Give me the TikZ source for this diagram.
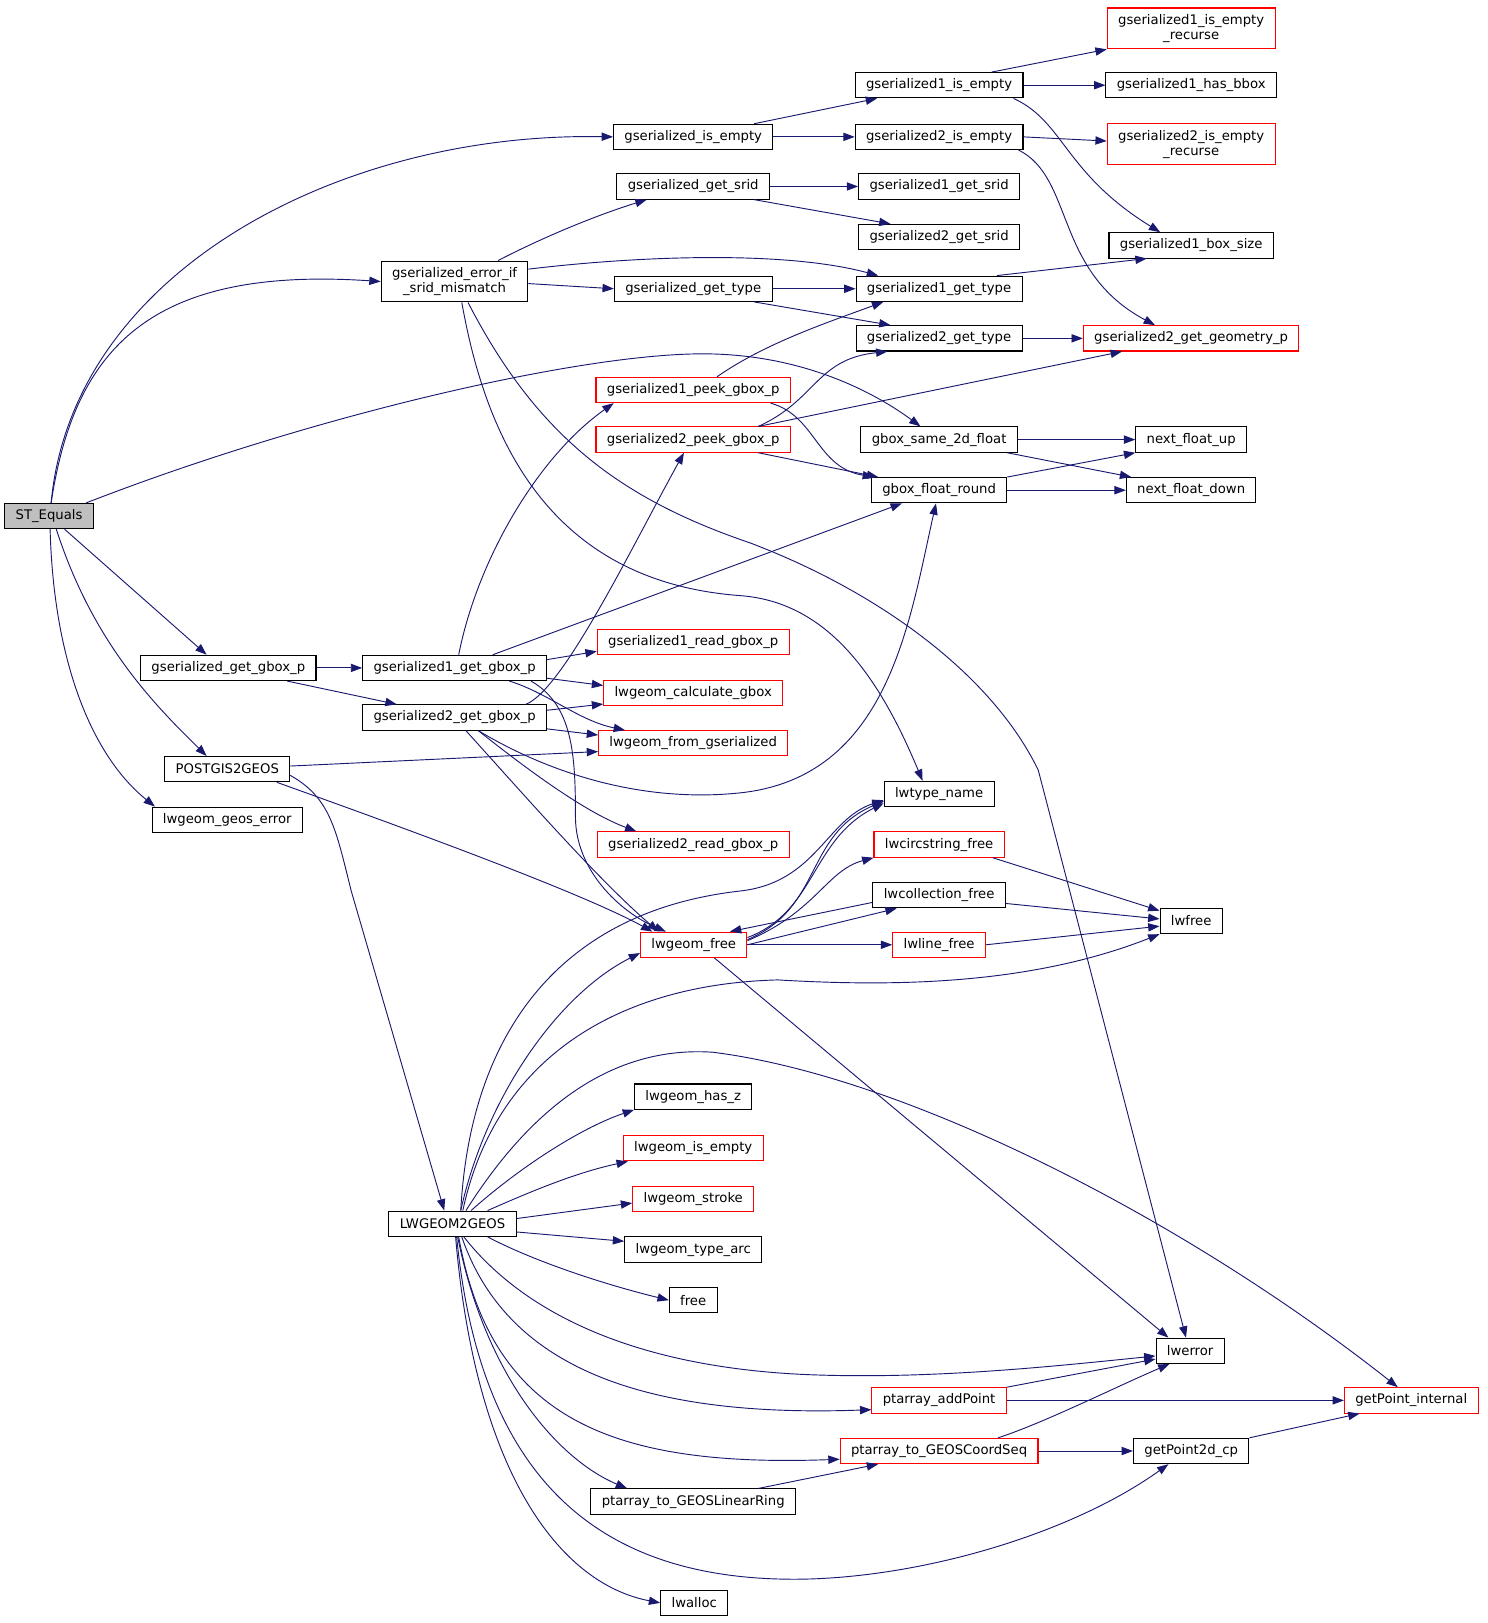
\documentclass[tikz,border=0pt]{standalone}
\usepackage{fontspec}
\setmainfont{DejaVu Sans}
\usetikzlibrary{arrows.meta}
\definecolor{edgeblue}{HTML}{191970}
\definecolor{boxred}{HTML}{FF0000}
\definecolor{boxgray}{HTML}{BFBFBF}

\begin{document}
\begin{tikzpicture}[x=1pt, y=-1pt,
  fn/.style = {draw, line width=1pt, rectangle, inner xsep=10.5pt, inner ysep=0pt, minimum height=24.5pt, font=\fontsize{12.8}{14.5}\selectfont},
  fnred/.style = {fn, draw=boxred},
  fnmain/.style = {fn, fill=boxgray},
  twoline/.style = {align=center, minimum height=39.5pt},
  calls/.style = {draw=edgeblue, line width=0.9pt, -{Triangle[length=11pt,width=8pt]}}]

		\useasboundingbox (0,-2.5) rectangle (1440,1568.5);

		% column 0 and 1
		\node[fnmain] (st) at (47.5,497) {ST\_Equals};
		\node[fn] (ggg) at (221,644) {gserialized\_get\_gbox\_p};
		\node[fn] (p2g) at (220,742) {POSTGIS2GEOS};
		\node[fn] (lge) at (220,791) {lwgeom\_geos\_error};

		% column 2
		\node[fn, twoline] (gesm) at (440,270) {gserialized\_error\_if\\\_srid\_mismatch};
		\node[fn] (g1gg) at (440,644) {gserialized1\_get\_gbox\_p};
		\node[fn] (g2gb) at (440,692) {gserialized2\_get\_gbox\_p};
		\node[fn] (l2g) at (438,1182) {LWGEOM2GEOS};

		% column 3
		\node[fn] (gie) at (671,130) {gserialized\_is\_empty};
		\node[fn] (ggs) at (671,178) {gserialized\_get\_srid};
		\node[fn] (ggt) at (671,277) {gserialized\_get\_type};
		\node[fnred] (g1pg) at (671,375) {gserialized1\_peek\_gbox\_p};
		\node[fnred] (g2pg) at (671,423) {gserialized2\_peek\_gbox\_p};
		\node[fnred] (g1rg) at (671,619) {gserialized1\_read\_gbox\_p};
		\node[fnred] (lcg) at (671,668) {lwgeom\_calculate\_gbox};
		\node[fnred] (lfg) at (671,717) {lwgeom\_from\_gserialized};
		\node[fnred] (g2rg) at (671,815) {gserialized2\_read\_gbox\_p};
		\node[fnred] (lgf) at (671.5,912) {lwgeom\_free};
		\node[fn] (lhz) at (671,1059) {lwgeom\_has\_z};
		\node[fnred] (lie) at (671,1109) {lwgeom\_is\_empty};
		\node[fnred] (ls) at (671,1158) {lwgeom\_stroke};
		\node[fn] (lta) at (671,1207) {lwgeom\_type\_arc};
		\node[fn] (fr) at (671,1256) {free};
		\node[fn] (plr) at (671,1451) {ptarray\_to\_GEOSLinearRing};
		\node[fn] (lwa) at (672,1549) {lwalloc};

		% column 4
		\node[fn] (g1ie) at (909,80) {gserialized1\_is\_empty};
		\node[fn] (g2ie) at (909,130) {gserialized2\_is\_empty};
		\node[fn] (g1gs) at (909,178) {gserialized1\_get\_srid};
		\node[fn] (g2gs) at (909,227) {gserialized2\_get\_srid};
		\node[fn] (g1gt) at (909,277) {gserialized1\_get\_type};
		\node[fn] (g2gt) at (909,325) {gserialized2\_get\_type};
		\node[fn] (gs2f) at (909,423) {gbox\_same\_2d\_float};
		\node[fn] (gfr) at (909,472) {gbox\_float\_round};
		\node[fn] (ltn) at (909,766) {lwtype\_name};
		\node[fnred] (lcsf) at (909,815) {lwcircstring\_free};
		\node[fn] (lcf) at (909,864) {lwcollection\_free};
		\node[fnred] (llf) at (909,912) {lwline\_free};
		\node[fnred] (pap) at (909,1353) {ptarray\_addPoint};
		\node[fnred] (pcs) at (909,1402) {ptarray\_to\_GEOSCoordSeq};

		% column 5 and 6
		\node[fnred, twoline] (g1ier) at (1153,25) {gserialized1\_is\_empty\\\_recurse};
		\node[fn] (g1hb) at (1153,80) {gserialized1\_has\_bbox};
		\node[fnred, twoline] (g2ier) at (1153,137) {gserialized2\_is\_empty\\\_recurse};
		\node[fn] (g1bs) at (1153,235) {gserialized1\_box\_size};
		\node[fnred] (g2gg) at (1153,325) {gserialized2\_get\_geometry\_p};
		\node[fn] (nfu) at (1153,423) {next\_float\_up};
		\node[fn] (nfd) at (1153,472) {next\_float\_down};
		\node[fn] (lwf) at (1153,889) {lwfree};
		\node[fn] (lwe) at (1152,1305) {lwerror};
		\node[fn] (gp2) at (1153,1402) {getPoint2d\_cp};
		\node[fnred] (gpi) at (1366,1353) {getPoint\_internal};

		% ST_Equals
		\draw[calls] ([xshift=2pt]st.north) .. controls (70,260) and (330,125) .. (gie.west);
		\draw[calls] ([xshift=2pt]st.north) .. controls (72,335) and (145,255) .. (gesm.west);
		\draw[calls] ([xshift=36pt]st.north) .. controls (300,400) and (560,340) .. (680,340)
			.. controls (780,340) and (850,380) .. ([xshift=-18pt]gs2f.north);
		\draw[calls] ([xshift=15pt]st.south) -- ([xshift=-21pt]ggg.north);
		\draw[calls] ([xshift=7pt]st.south) .. controls (90,620) and (150,680) .. ([xshift=-20pt]p2g.north);
		\draw[calls] ([xshift=1pt]st.south) .. controls (52,640) and (90,730) .. ([xshift=-70pt]lge.north);

		% gserialized_is_empty
		\draw[calls] ([xshift=59pt]gie.north) -- ([xshift=-60pt]g1ie.south);
		\draw[calls] (gie.east) -- (g2ie.west);
		\draw[calls] ([xshift=51pt]g1ie.north) -- (g1ier.south west);
		\draw[calls] (g1ie.east) -- (g1hb.west);
		\draw[calls] ([xshift=72pt]g1ie.south) .. controls (1030,115) and (1030,165) .. ([xshift=-30pt]g1bs.north);
		\draw[calls] (g2ie.east) -- ([yshift=3pt]g2ier.west);
		\draw[calls] ([xshift=77pt]g2ie.south) .. controls (1040,170) and (1020,260) .. ([xshift=-35pt]g2gg.north);

		% gserialized_error_if_srid_mismatch
		\draw[calls] ([xshift=42pt]gesm.north) .. controls (530,225) and (580,205) .. ([xshift=-45pt]ggs.south);
		\draw[calls] ([yshift=12pt]gesm.east) .. controls (620,245) and (760,240) .. ([xshift=-59pt]g1gt.north);
		\draw[calls] ([yshift=-2pt]gesm.east) -- (ggt.west);
		\draw[calls] ([xshift=7pt]gesm.south) .. controls (470,420) and (530,560) .. (716,574)
			.. controls (800,580) and (850,650) .. ([xshift=-16pt]ltn.north);
		\draw[calls] ([xshift=13pt]gesm.south) .. controls (520,420) and (600,480) .. (726,523)
			.. controls (850,570) and (960,650) .. (1005,743) -- ([xshift=-4pt]lwe.north);

		% srid and type
		\draw[calls] (ggs.east) -- (g1gs.west);
		\draw[calls] ([xshift=59pt]ggs.south) -- ([xshift=-47pt]g2gs.north);
		\draw[calls] (ggt.east) -- (g1gt.west);
		\draw[calls] ([xshift=59pt]ggt.south) -- ([xshift=-47pt]g2gt.north);
		\draw[calls] ([xshift=56pt]g1gt.north) -- ([xshift=-43pt]g1bs.south);
		\draw[calls] (g2gt.east) -- (g2gg.west);

		% peek gbox
		\draw[calls] ([xshift=23pt]g1pg.north) .. controls (740,330) and (800,310) .. ([xshift=-54pt]g1gt.south);
		\draw[calls] ([xshift=75pt]g1pg.south) .. controls (790,400) and (790,450) .. ([xshift=3pt]gfr.north west);
		\draw[calls] ([xshift=63pt]g2pg.north) .. controls (790,385) and (790,345) .. ([xshift=-50pt]g2gt.south);
		\draw[calls] ([xshift=63pt]g2pg.north) -- ([xshift=-67pt]g2gg.south);
		\draw[calls] ([xshift=63pt]g2pg.south) -- ([xshift=-59pt]gfr.north);

		% float
		\draw[calls] (gs2f.east) -- (nfu.west);
		\draw[calls] ([xshift=66pt]gs2f.south) -- ([xshift=-58pt]nfd.north);
		\draw[calls] ([xshift=66pt]gfr.north) -- (nfu.south west);
		\draw[calls] (gfr.east) -- (nfd.west);

		% gserialized_get_gbox_p
		\draw[calls] (ggg.east) -- (g1gg.west);
		\draw[calls] ([xshift=57pt]ggg.south) -- ([xshift=-56pt]g2gb.north);
		\draw[calls] ([xshift=4pt]g1gg.north) .. controls (462,540) and (520,440) .. ([xshift=-77pt]g1pg.south);
		\draw[calls] ([xshift=37pt]g1gg.north) -- ([xshift=-36pt]gfr.south);
		\draw[calls] ([yshift=8pt]g1gg.east) -- ([yshift=-9pt]g1rg.west);
		\draw[calls] ([yshift=-10pt]g1gg.east) -- ([yshift=7pt]lcg.west);
		\draw[calls] ([xshift=53pt]g1gg.south) .. controls (530,668) and (560,695) .. ([xshift=-66pt]lfg.north);
		\draw[calls] ([xshift=74pt]g1gg.south) .. controls (555,680) and (557,730) .. (557,788)
			.. controls (557,840) and (600,880) .. ([xshift=-27pt]lgf.north);
		\draw[calls] ([xshift=69pt]g2gb.north) .. controls (545,665) and (610,530) .. ([xshift=-9pt]g2pg.south);
		\draw[calls] ([yshift=7pt]g2gb.east) -- ([yshift=-11pt]lcg.west);
		\draw[calls] ([yshift=-11pt]g2gb.east) -- ([yshift=8pt]lfg.west);
		\draw[calls] ([xshift=23pt]g2gb.south) .. controls (530,745) and (620,775) .. (716,765)
			.. controls (860,750) and (880,600) .. ([xshift=-3pt]gfr.south);
		\draw[calls] ([xshift=23pt]g2gb.south) .. controls (520,750) and (570,785) .. ([xshift=-55pt]g2rg.north);
		\draw[calls] ([xshift=11pt]g2gb.south) .. controls (510,770) and (580,850) .. ([xshift=-34pt]lgf.north);

		% POSTGIS2GEOS
		\draw[calls] ([yshift=3pt]p2g.east) -- ([yshift=-8pt]lfg.west);
		\draw[calls] ([xshift=48pt]p2g.south) .. controls (380,795) and (560,860) .. ([xshift=-40pt]lgf.north);
		\draw[calls] ([yshift=-6pt]p2g.east) .. controls (320,770) and (325,800) .. (340,860) -- ([xshift=-8pt]l2g.north);

		% lwgeom_free
		\draw[calls] ([yshift=7pt]lgf.east) .. controls (790,880) and (785,810) .. ([yshift=-9pt]ltn.west);
		\draw[calls] ([yshift=5pt]lgf.east) .. controls (797,876) and (778,806) .. ([yshift=-7pt]ltn.west);
		\draw[calls] ([yshift=4pt]lgf.east) .. controls (790,880) and (800,840) .. (lcsf.south west);
		\draw[calls] (lgf.east) -- ([xshift=-41pt]lcf.south);
		\draw[calls] ([yshift=-7pt]lcf.west) -- ([xshift=35pt]lgf.north);
		\draw[calls] (lgf.east) -- (llf.west);
		\draw[calls] ([xshift=20pt]lgf.south) -- ([xshift=-21pt]lwe.north);
		\draw[calls] ([xshift=52pt]lcsf.south) -- ([yshift=10pt]lwf.west);
		\draw[calls] ([yshift=-8pt]lcf.east) -- ([yshift=2pt]lwf.west);
		\draw[calls] (llf.east) -- ([yshift=-5pt]lwf.west);

		% LWGEOM2GEOS
		\draw[calls] ([xshift=8pt]l2g.north) .. controls (455,1000) and (540,880) .. (716,860)
			.. controls (790,852) and (800,790) .. ([yshift=-6pt]ltn.west);
		\draw[calls] ([xshift=8pt]l2g.north) .. controls (470,1060) and (540,960) .. ([yshift=-8pt]lgf.west);
		\draw[calls] ([xshift=10pt]l2g.north) .. controls (480,1020) and (600,950) .. (753,946)
			.. controls (870,953) and (1000,950) .. (lwf.south west);
		\draw[calls] ([xshift=13pt]l2g.north) .. controls (520,1060) and (600,1010) .. (690,1016)
			.. controls (880,1040) and (1150,1180) .. ([xshift=-13pt]gpi.north);
		\draw[calls] ([xshift=18pt]l2g.north) .. controls (500,1130) and (560,1090) .. (lhz.south west);
		\draw[calls] ([xshift=34pt]l2g.north) .. controls (520,1148) and (560,1132) .. ([xshift=5pt]lie.south west);
		\draw[calls] ([yshift=5pt]l2g.east) -- ([yshift=-4pt]ls.west);
		\draw[calls] ([yshift=-8pt]l2g.east) -- ([yshift=8pt]lta.west);
		\draw[calls] ([xshift=34pt]l2g.south) .. controls (520,1220) and (590,1242) .. (fr.west);
		\draw[calls] ([xshift=11pt]l2g.south) .. controls (500,1260) and (600,1320) .. (780,1328)
			.. controls (900,1333) and (1020,1320) .. ([yshift=-5pt]lwe.west);
		\draw[calls] ([xshift=9pt]l2g.south) .. controls (490,1320) and (620,1370) .. ([yshift=-9pt]pap.west);
		\draw[calls] ([xshift=6pt]l2g.south) .. controls (475,1370) and (590,1418) .. ([yshift=-8pt]pcs.west);
		\draw[calls] ([xshift=5pt]l2g.south) .. controls (470,1330) and (540,1410) .. ([xshift=-64pt]plr.north);
		\draw[calls] ([xshift=4pt]l2g.south) .. controls (465,1430) and (580,1530) .. (780,1526)
			.. controls (900,1523) and (1040,1480) .. ([xshift=-22pt]gp2.south);
		\draw[calls] ([xshift=3pt]l2g.south) .. controls (460,1420) and (540,1530) .. (lwa.west);

		% ptarray
		\draw[calls] (pap.north east) -- ([yshift=-8pt]lwe.west);
		\draw[calls] (pap.east) -- (gpi.west);
		\draw[calls] ([xshift=57pt]pcs.north) .. controls (1010,1375) and (1080,1340) .. ([xshift=-20pt]lwe.south);
		\draw[calls] (pcs.east) -- (gp2.west);
		\draw[calls] (gp2.north east) -- ([xshift=-50pt]gpi.south);
		\draw[calls] ([xshift=63pt]plr.north) -- ([xshift=-59pt]pcs.south);
	\end{tikzpicture}
\end{document}
